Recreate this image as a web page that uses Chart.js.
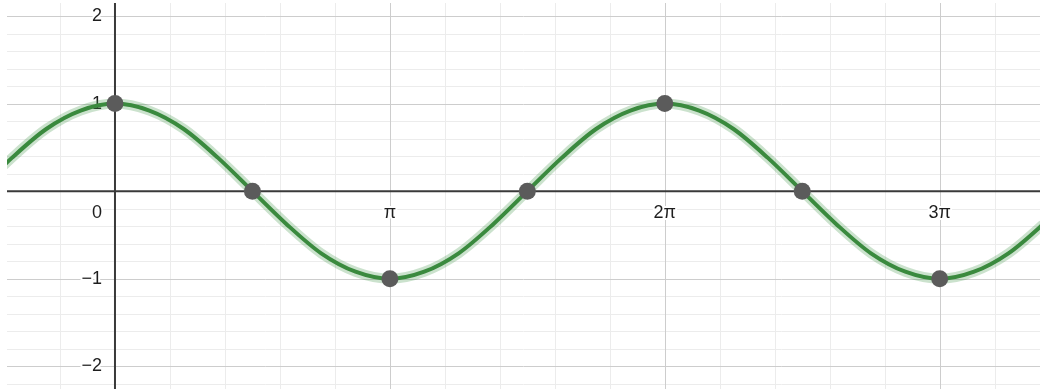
<!DOCTYPE html>
<html>
<head>
<meta charset="utf-8">
<script src="https://cdn.jsdelivr.net/npm/chart.js@4"></script>
<style>
  html, body { margin: 0; padding: 0; background: #fff; }
  #wrap { width: 1040px; height: 389px; }
</style>
</head>
<body>
<div id="wrap"><canvas id="graph" width="1040" height="389"></canvas></div>
<script>
// visible window (x in radians, y in units)
const x_min = -1.234;
const x_max = 10.571;
const y_min = -2.26;
const y_max = 2.149;

// curve samples, x given in multiples of pi
const curve_x_pi = [-0.5, -0.375, -0.25, -0.125, 0, 0.125, 0.25, 0.375, 0.5, 0.625, 0.75, 0.875,
  1, 1.125, 1.25, 1.375, 1.5, 1.625, 1.75, 1.875, 2, 2.125, 2.25, 2.375, 2.5, 2.625, 2.75, 2.875,
  3, 3.125, 3.25, 3.375, 3.5];
const curve_y = [0, 0.38, 0.71, 0.92, 1, 0.92, 0.71, 0.38, 0, -0.38, -0.71, -0.92,
  -1, -0.92, -0.71, -0.38, 0, 0.38, 0.71, 0.92, 1, 0.92, 0.71, 0.38, 0, -0.38, -0.71, -0.92,
  -1, -0.92, -0.71, -0.38, 0];

// marked points
const marker_x_pi = [0, 0.5, 1, 1.5, 2, 2.5, 3];
const marker_y = [1, 0, -1, 0, 1, 0, -1];

// axis labels
const x_tick_values_pi = [0, 1, 2, 3];
const x_tick_labels = ['0', 'π', '2π', '3π'];
const y_tick_values = [2, 1, -1, -2];
const y_tick_labels = ['2', '1', '−1', '−2'];

// grid steps
const x_grid_step_pi = 0.2;
const y_grid_step = 0.2;

const curve_points = curve_x_pi.map((x, i) => ({ x: x * Math.PI, y: curve_y[i] }));
const marker_points = marker_x_pi.map((x, i) => ({ x: x * Math.PI, y: marker_y[i] }));

function grid_ticks(min, max, step) {
  const ticks = [];
  const start = Math.ceil(min / step - 1e-9);
  const end = Math.floor(max / step + 1e-9);
  for (let k = start; k <= end; k++) {
    ticks.push({ value: k * step, k: k });
  }
  return ticks;
}

// cuadricula, ejes y etiquetas (antes de dibujar los datos)
const grid_plugin = {
  id: 'desmos_grid',
  beforeDatasetsDraw(chart) {
    const ctx = chart.ctx;
    const xs = chart.scales.x;
    const ys = chart.scales.y;
    const area = chart.chartArea;
    const x_ticks = grid_ticks(x_min, x_max, x_grid_step_pi * Math.PI);
    const y_ticks = grid_ticks(y_min, y_max, y_grid_step);
    ctx.save();
    // lineas menores y mayores
    [false, true].forEach(major => {
      ctx.strokeStyle = major ? '#cdcdcd' : '#ececec';
      ctx.lineWidth = 1;
      ctx.beginPath();
      x_ticks.forEach(t => {
        if (t.k === 0 || (t.k % 5 === 0) !== major) return;
        const px = Math.round(xs.getPixelForValue(t.value)) + 0.5;
        ctx.moveTo(px, area.top);
        ctx.lineTo(px, area.bottom);
      });
      y_ticks.forEach(t => {
        if (t.k === 0 || (t.k % 5 === 0) !== major) return;
        const py = Math.round(ys.getPixelForValue(t.value)) + 0.5;
        ctx.moveTo(area.left, py);
        ctx.lineTo(area.right, py);
      });
      ctx.stroke();
    });
    // ejes
    const x0 = xs.getPixelForValue(0);
    const y0 = ys.getPixelForValue(0);
    ctx.strokeStyle = '#3a3a3a';
    ctx.lineWidth = 2;
    ctx.beginPath();
    ctx.moveTo(x0, area.top);
    ctx.lineTo(x0, area.bottom);
    ctx.moveTo(area.left, y0);
    ctx.lineTo(area.right, y0);
    ctx.stroke();
    // etiquetas
    ctx.font = '18px "Liberation Sans", Arial, sans-serif';
    ctx.fillStyle = '#1e1e1e';
    ctx.strokeStyle = '#fff';
    ctx.lineWidth = 4;
    ctx.lineJoin = 'round';
    ctx.textBaseline = 'middle';
    ctx.textAlign = 'center';
    x_tick_values_pi.forEach((v, i) => {
      let px = xs.getPixelForValue(v * Math.PI);
      if (v === 0) px -= 18;
      ctx.strokeText(x_tick_labels[i], px, y0 + 22);
      ctx.fillText(x_tick_labels[i], px, y0 + 22);
    });
    ctx.textAlign = 'right';
    y_tick_values.forEach((v, i) => {
      const py = ys.getPixelForValue(v);
      ctx.strokeText(y_tick_labels[i], x0 - 13, py);
      ctx.fillText(y_tick_labels[i], x0 - 13, py);
    });
    ctx.restore();
  }
};

const graph = new Chart(document.getElementById('graph').getContext('2d'), {
  type: 'scatter',
  data: {
    datasets: [
      {
        data: marker_points,
        showLine: false,
        pointRadius: 8.5,
        pointBackgroundColor: '#5b5b5b',
        pointBorderWidth: 0,
        order: 0
      },
      {
        data: curve_points,
        showLine: true,
        borderColor: '#3a8a3e',
        borderWidth: 4,
        pointRadius: 0,
        cubicInterpolationMode: 'monotone',
        order: 1
      },
      {
        data: curve_points,
        showLine: true,
        borderColor: 'rgba(70, 150, 75, 0.28)',
        borderWidth: 10,
        pointRadius: 0,
        cubicInterpolationMode: 'monotone',
        order: 2
      }
    ]
  },
  options: {
    responsive: false,
    animation: false,
    layout: { padding: { left: 7, top: 3, right: 0, bottom: 0 }, autoPadding: false },
    plugins: { legend: { display: false }, tooltip: { enabled: false } },
    scales: {
      x: { type: 'linear', display: false, min: x_min, max: x_max },
      y: { type: 'linear', display: false, min: y_min, max: y_max }
    }
  },
  plugins: [grid_plugin]
});
</script>
</body>
</html>
